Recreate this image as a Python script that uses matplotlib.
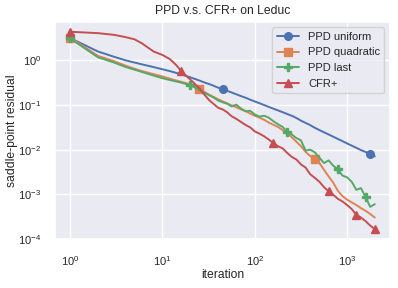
import matplotlib
matplotlib.use("Agg")
import matplotlib.pyplot as plt
import seaborn as sns

# iterations at which the residual was logged
iterations = [1, 2, 3, 4, 5, 6, 8, 10, 12, 14, 16, 18, 20, 22, 25, 28, 32, 35, 40, 45,
              50, 56, 63, 71, 80, 89, 100, 112, 126, 141, 158, 178, 200, 224, 251, 282,
              316, 355, 398, 447, 501, 562, 631, 708, 794, 891, 1000, 1122, 1259, 1413,
              1585, 1778, 1995]

ppd_uniform = [3.16, 1.58, 1.20, 1.00, 0.891, 0.813, 0.708, 0.631, 0.575, 0.525, 0.490,
               0.447, 0.417, 0.389, 0.355, 0.324, 0.295, 0.275, 0.245, 0.224, 0.209,
               0.191, 0.174, 0.158, 0.145, 0.132, 0.120, 0.110, 0.100, 0.0912, 0.0832,
               0.0759, 0.0692, 0.0631, 0.0575, 0.0513, 0.0447, 0.0398, 0.0355, 0.0309,
               0.0275, 0.0245, 0.0219, 0.0195, 0.0174, 0.0155, 0.0138, 0.0123, 0.0110,
               0.00977, 0.00891, 0.00794, 0.00708]

ppd_quadratic = [3.24, 1.26, 0.955, 0.759, 0.646, 0.575, 0.490, 0.437, 0.389, 0.355,
                 0.331, 0.309, 0.295, 0.269, 0.229, 0.200, 0.170, 0.155, 0.135, 0.120,
                 0.110, 0.0977, 0.0891, 0.0794, 0.0724, 0.0646, 0.0575, 0.0525, 0.0468,
                 0.0407, 0.0363, 0.0324, 0.0275, 0.0234, 0.0191, 0.0151, 0.0120, 0.00891,
                 0.00724, 0.00603, 0.00501, 0.00355, 0.00251, 0.00182, 0.00120, 0.000912,
                 0.000759, 0.000661, 0.000575, 0.000490, 0.000427, 0.000363, 0.000302]

ppd_last = [3.10, 1.17, 0.891, 0.708, 0.617, 0.550, 0.457, 0.398, 0.363, 0.339, 0.316,
            0.295, 0.275, 0.251, 0.219, 0.191, 0.166, 0.151, 0.126, 0.115, 0.107, 0.0933,
            0.102, 0.0832, 0.0724, 0.0741, 0.0617, 0.0550, 0.0575, 0.0525, 0.0437, 0.0372,
            0.0324, 0.0251, 0.0219, 0.0182, 0.0162, 0.00955, 0.0100, 0.00871, 0.00661,
            0.00501, 0.00575, 0.00437, 0.00363, 0.00263, 0.00240, 0.00191, 0.00126,
            0.00138, 0.000871, 0.000525, 0.000603]

cfr_plus = [4.37, 4.07, 3.72, 3.31, 2.95, 2.40, 1.58, 1.32, 1.07, 0.794, 0.575, 0.457,
            0.372, 0.309, 0.240, 0.178, 0.129, 0.110, 0.0871, 0.0794, 0.0692, 0.0562,
            0.0490, 0.0417, 0.0355, 0.0316, 0.0257, 0.0229, 0.0200, 0.0170, 0.0141,
            0.0120, 0.0107, 0.00851, 0.00692, 0.00603, 0.00468, 0.00398, 0.00282, 0.00234,
            0.00191, 0.00145, 0.00117, 0.000977, 0.000794, 0.000692, 0.000575, 0.000468,
            0.000347, 0.000302, 0.000251, 0.000200, 0.000166]

series = [
    ("PPD uniform", ppd_uniform, "o", [0, 19, 51]),
    ("PPD quadratic", ppd_quadratic, "s", [0, 14, 39]),
    ("PPD last", ppd_last, "P", [0, 12, 33, 44, 50]),
    ("CFR+", cfr_plus, "^", [0, 10, 30, 42, 48, 52]),
]

sns.set_theme(style="darkgrid")
plt.rcParams["font.family"] = ["Liberation Sans", "DejaVu Sans"]
plt.rcParams["mathtext.fontset"] = "custom"
plt.rcParams["mathtext.rm"] = "Liberation Sans"
plt.rcParams["mathtext.it"] = "Liberation Sans:italic"
plt.rcParams["mathtext.bf"] = "Liberation Sans:bold"

fig, ax = plt.subplots(figsize=(3.98, 2.88), dpi=100)
fig.subplots_adjust(left=0.138, right=0.98, top=0.924, bottom=0.17)

for label, values, marker, marks in series:
    ax.plot(iterations, values, marker=marker, markevery=marks, label=label,
            linewidth=1.4, markersize=5.5)

ax.set_xscale("log")
ax.set_yscale("log")
ax.grid(True, which="major", color="white", linewidth=1.0)
ax.tick_params(axis="x", labelsize=8, pad=5)
ax.tick_params(axis="y", labelsize=8, pad=4)
ax.set_xlabel("iteration", fontsize=8.7)
ax.set_ylabel("saddle-point residual", fontsize=8.7)
ax.xaxis.set_label_coords(0.5, -0.14)
ax.yaxis.set_label_coords(-0.11, 0.5)
ax.set_title("PPD v.s. CFR+ on Leduc", fontsize=8.7)
ax.legend(loc="upper right", fontsize=8)

fig.savefig("out.png", dpi=100)
